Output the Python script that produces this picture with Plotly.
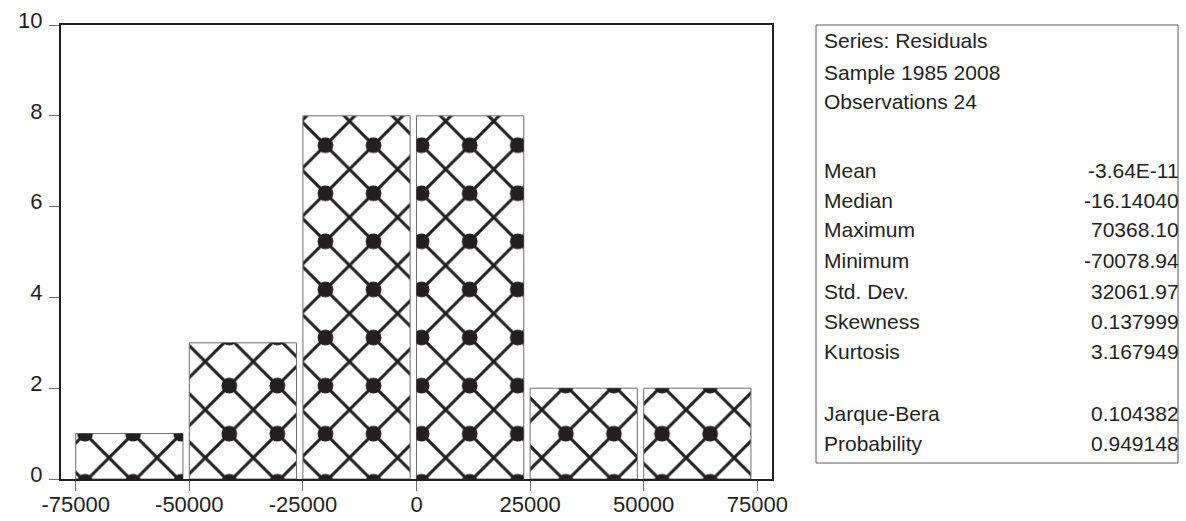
import plotly.graph_objects as go

# Histogram of regression residuals (bin width 25000)
bin_left = [-75000, -50000, -25000, 0, 25000, 50000]
counts = [1, 3, 8, 8, 2, 2]

x_ticks = [-75000, -50000, -25000, 0, 25000, 50000, 75000]
x_tick_text = ["-75000", "-50000", "-25000", "0", "25000", "50000", "75000"]
y_ticks = [0, 2, 4, 6, 8, 10]

header_lines = ["Series: Residuals", "Sample 1985 2008", "Observations 24"]
stat_names = ["Mean", "Median", "Maximum", "Minimum", "Std. Dev.", "Skewness", "Kurtosis",
              "Jarque-Bera", "Probability"]
stat_values = ["-3.64E-11", "-16.14040", "70368.10", "-70078.94", "32061.97", "0.137999",
               "3.167949", "0.104382", "0.949148"]

W, H = 1186, 521
M_L, M_R, M_T, M_B = 61, 414, 25, 42
PLOT_W = W - M_L - M_R
PLOT_H = H - M_T - M_B

INK = "#231f20"
FONT = "Liberation Sans, Arial, sans-serif"
HATCH = 34


def px_x(p):
    return (p - M_L) / PLOT_W


def px_y(p):
    return (H - M_B - p) / PLOT_H


fig = go.Figure()

# crosshatched bars
fig.add_trace(go.Bar(
    x=bin_left, y=counts, offset=0, width=23600,
    marker=dict(
        color="white",
        line=dict(color="#6d6e71", width=1),
        pattern=dict(shape="x", size=HATCH, solidity=0.17, fgcolor=INK,
                     bgcolor="white", fillmode="replace"),
    ),
    hoverinfo="skip", showlegend=False,
))
# heavier knots on alternate crossings of the hatch
fig.add_trace(go.Bar(
    x=bin_left, y=counts, offset=0, width=23600,
    marker=dict(
        color="rgba(0,0,0,0)",
        line=dict(width=0),
        pattern=dict(shape=".", size=HATCH * 2 ** 0.5, solidity=0.085, fgcolor=INK,
                     bgcolor="rgba(0,0,0,0)", fillmode="replace"),
    ),
    hoverinfo="skip", showlegend=False,
))

# statistics panel
fig.add_shape(type="rect", xref="paper", yref="paper",
              x0=px_x(816), x1=px_x(1178), y0=px_y(463), y1=px_y(25),
              line=dict(color="#58595b", width=1), fillcolor="white", layer="below")

header_y = [40, 72, 101.5]
stat_y = [170, 200, 230, 260.5, 291.5, 321.7, 351.7, 413, 443.3]
STAT_FONT = dict(family=FONT, size=21, color=INK)

for text, yy in zip(header_lines, header_y):
    fig.add_annotation(x=px_x(822), y=px_y(yy), xref="paper", yref="paper",
                       text=text, showarrow=False, xanchor="left", yanchor="middle",
                       font=STAT_FONT)

for name, val, yy in zip(stat_names, stat_values, stat_y):
    fig.add_annotation(x=px_x(822), y=px_y(yy), xref="paper", yref="paper",
                       text=name, showarrow=False, xanchor="left", yanchor="middle",
                       font=STAT_FONT)
    fig.add_annotation(x=px_x(1181), y=px_y(yy), xref="paper", yref="paper",
                       text=val, showarrow=False, xanchor="right", yanchor="middle",
                       font=STAT_FONT)

fig.update_layout(
    width=W, height=H,
    margin=dict(l=M_L, r=M_R, t=M_T, b=M_B, pad=0, autoexpand=False),
    paper_bgcolor="white", plot_bgcolor="white",
    barmode="overlay",
    showlegend=False,
    font=dict(family=FONT, color=INK),
)

fig.update_xaxes(
    range=[-78235, 78235], tickvals=x_ticks, ticktext=x_tick_text,
    showgrid=False, zeroline=False, automargin=False,
    showline=True, mirror=True, linecolor=INK, linewidth=2,
    ticks="outside", ticklen=10, tickcolor="#6d6e71", tickwidth=1,
    tickfont=dict(family=FONT, size=22, color=INK),
    ticklabelstandoff=-5,
    fixedrange=True,
)
fig.update_yaxes(
    range=[0, 10], tickvals=y_ticks,
    showgrid=False, zeroline=False, automargin=False,
    showline=True, mirror=True, linecolor=INK, linewidth=2,
    ticks="outside", ticklen=10, tickcolor="#6d6e71", tickwidth=1,
    tickfont=dict(family=FONT, size=22, color=INK),
    ticklabelstandoff=2, ticklabelshift=-5,
    fixedrange=True,
)

fig.write_html("out.html")
